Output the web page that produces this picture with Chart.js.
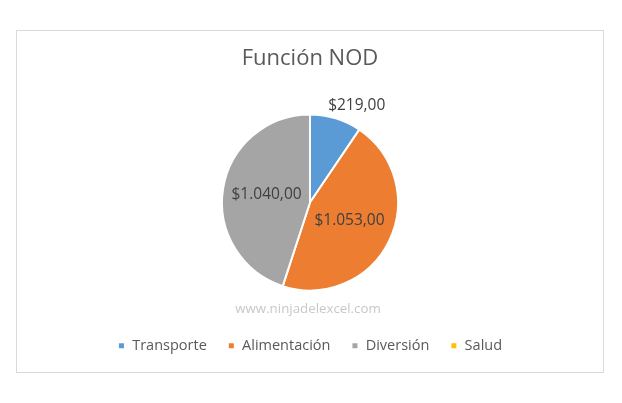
<!DOCTYPE html>
<html>
<head>
<meta charset="utf-8">
<script src="https://cdn.jsdelivr.net/npm/chart.js@4.4.1/dist/chart.umd.min.js"></script>
<style>
html,body{margin:0;padding:0;background:#fff;}
#wrap{width:622px;height:403px;position:relative;}
</style>
</head>
<body>
<div id="wrap"><canvas id="c" width="622" height="403"></canvas></div>
<script>
const categories = ['Transporte', 'Alimentación', 'Diversión', 'Salud'];
const values = [219, 1053, 1040, null];
const colors = ['#5B9BD5', '#ED7D31', '#A5A5A5', '#FFC000'];
const chartTitle = 'Función NOD';
const watermark = 'www.ninjadelexcel.com';

const FONT = "'Open Sans', 'Liberation Sans', sans-serif";

function fmt(v){
  const parts = v.toFixed(2).split('.');
  const int = parts[0].replace(/\B(?=(\d{3})+(?!\d))/g, '.');
  return '$' + int + ',' + parts[1];
}

const decor = {
  id: 'decor',
  beforeDraw(chart){
    const ctx = chart.ctx;
    ctx.save();
    ctx.strokeStyle = '#D9D9D9';
    ctx.lineWidth = 1;
    ctx.strokeRect(16.5, 30.5, 587, 342);
    ctx.restore();
  },
  afterDatasetsDraw(chart){
    const ctx = chart.ctx;
    const meta = chart.getDatasetMeta(0);
    ctx.save();
    ctx.font = '15.5px ' + FONT;
    ctx.fillStyle = '#404040';
    ctx.textAlign = 'center';
    ctx.textBaseline = 'middle';
    meta.data.forEach((arc, i) => {
      const v = values[i];
      if (v === null || v === 0) return;
      const p = arc.getProps(['x','y','startAngle','endAngle','outerRadius'], true);
      const mid = (p.startAngle + p.endAngle) / 2;
      const span = p.endAngle - p.startAngle;
      const txt = fmt(v);
      const w = ctx.measureText(txt).width;
      const cos = Math.cos(mid), sin = Math.sin(mid);
      let cx, cy;
      if (span < 1.0) {
        const r = p.outerRadius + 8;
        cx = p.x + cos * r + Math.sign(cos) * w / 2 * 0.65;
        cy = p.y + sin * r + sin * 5;
      } else {
        const r = p.outerRadius * 0.5;
        cx = p.x + cos * r;
        cy = p.y + sin * r - 1;
      }
      ctx.fillText(txt, cx, cy);
    });
    ctx.font = '13.3px ' + FONT;
    ctx.fillStyle = '#C8C8C8';
    ctx.fillText(watermark, 308, 309);
    ctx.restore();
  }
};

new Chart(document.getElementById('c'), {
  type: 'pie',
  data: {
    labels: categories,
    datasets: [{
      data: values,
      backgroundColor: colors,
      borderColor: '#FFFFFF',
      borderWidth: 2,
      radius: 88
    }]
  },
  options: {
    responsive: false,
    animation: false,
    devicePixelRatio: 1,
    layout: { padding: { top: 0, left: 0, right: 2, bottom: 40 } },
    plugins: {
      title: {
        display: true,
        text: chartTitle,
        color: '#595959',
        font: { family: FONT, size: 22, weight: 'normal' },
        padding: { top: 46, bottom: 15 }
      },
      legend: {
        display: true,
        position: 'bottom',
        labels: {
          color: '#595959',
          font: { family: FONT, size: 14.5 },
          boxWidth: 7,
          boxHeight: 7,
          padding: 21
        }
      },
      tooltip: { enabled: false }
    }
  },
  plugins: [decor]
});
</script>
</body>
</html>
